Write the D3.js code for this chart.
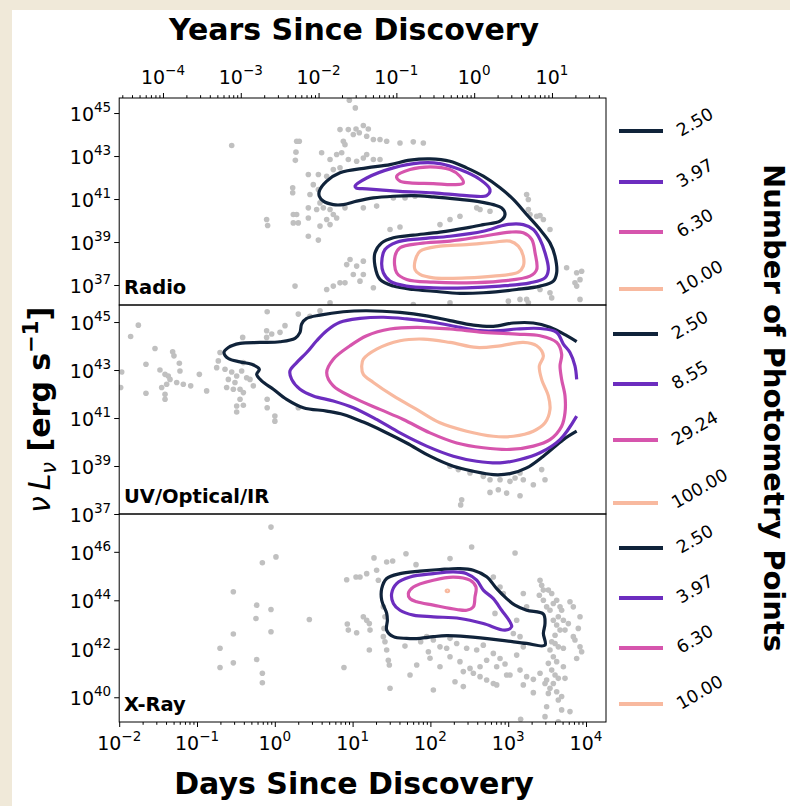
<!DOCTYPE html>
<html><head><meta charset="utf-8">
<script src="https://cdn.jsdelivr.net/npm/d3@7"></script>
<style>html,body{margin:0;padding:0;background:#f0e9d9;} svg{display:block;font-family:"DejaVu Sans",sans-serif;}</style>
</head><body><svg id="c" width="790" height="806"></svg>
<script>
// ---------- DATA (log10 values) ----------
const dayTickExps = [-2,-1,0,1,2,3,4];
const yearTickExps = [-4,-3,-2,-1,0,1];
const xDomainExp = [-2, 4.257];
const daysPerYear = 365.25;
const panelNames = ["Radio","UV/Optical/IR","X-Ray"];
const panelYTickExps = [[45,43,41,39,37],[45,43,41,39,37],[46,44,42,40]];
const panelYDomainExp = [[36.07,45.7],[37.0,45.71],[38.98,47.56]];
const radioLevels = [2.50,3.97,6.30,10.00];
const uvLevels = [2.50,8.55,29.24,100.00];
const xrayLevels = [2.50,3.97,6.30,10.00];
const levelColors = ["#10233a","#6c2dbf","#d655ad","#f8b99f"];

// scatter points: [log10 days, log10 nuLnu]
const radioPts = [[0.958,45.60],[1.035,45.24],[-0.554,43.49],[0.281,43.69],[0.315,43.69],[0.272,43.18],[0.264,42.80],[0.838,44.23],[0.945,44.23],[1.044,44.26],[1.138,44.42],[1.202,44.26],[1.086,44.08],[1.009,44.00],[1.181,43.92],[1.267,43.77],[1.352,43.77],[1.438,43.69],[1.609,43.61],[1.780,43.66],[1.909,43.61],[0.881,43.69],[0.902,43.53],[0.602,43.15],[0.710,42.84],[0.795,43.07],[0.860,43.15],[0.945,42.84],[1.052,42.76],[1.138,42.91],[1.181,43.07],[1.267,42.84],[1.352,42.84],[0.752,42.37],[0.838,42.45],[0.667,42.06],[0.431,42.14],[0.560,42.14],[0.495,41.67],[0.560,41.44],[0.230,41.52],[0.230,41.29],[0.452,41.21],[0.581,40.82],[0.624,40.59],[0.538,40.51],[0.710,40.51],[0.752,40.28],[0.667,40.05],[0.710,39.81],[0.795,40.12],[0.431,40.59],[0.238,40.28],[0.281,40.28],[0.431,40.12],[-0.105,40.05],[-0.092,39.77],[0.238,39.89],[0.302,39.89],[0.581,39.74],[0.431,39.27],[0.560,39.09],[1.524,41.05],[1.674,41.05],[1.802,41.13],[1.309,40.67],[1.138,40.59],[0.902,40.59],[2.595,40.59],[2.638,40.51],[2.766,40.43],[2.252,40.05],[2.380,40.20],[2.123,39.81],[1.481,39.58],[1.609,39.70],[3.237,41.21],[3.259,40.98],[3.259,40.51],[3.280,40.28],[3.366,40.20],[3.409,40.23],[3.452,40.05],[3.537,39.58],[3.751,37.80],[3.880,37.57],[3.944,37.64],[3.923,37.25],[3.858,37.10],[3.880,36.95],[0.924,37.95],[1.052,37.88],[0.967,38.19],[1.138,38.11],[1.009,37.49],[1.138,37.49],[1.095,37.18],[0.902,37.10],[0.838,37.10],[0.752,36.95],[0.667,36.79],[0.260,36.95],[1.267,36.87],[3.409,36.79],[3.537,36.64],[3.559,36.40],[3.152,36.33],[3.002,36.25],[3.237,36.33],[3.259,36.17],[3.923,36.33],[2.252,36.17],[1.780,36.09],[0.710,36.17]];

const uvPts = [[-0.098,45.43],[0.302,45.33],[0.452,45.24],[0.581,45.47],[-1.754,44.87],[-1.853,44.40],[-1.540,43.90],[-1.313,43.76],[-1.296,43.59],[-1.656,43.24],[-1.227,43.28],[-1.219,42.96],[-1.968,42.92],[-1.981,42.27],[-1.476,43.00],[-1.411,42.82],[-1.369,42.75],[-1.347,42.61],[-1.454,42.27],[-1.390,42.41],[-1.411,41.99],[-1.411,41.78],[-1.656,42.03],[-1.261,42.48],[-1.176,42.41],[-1.081,42.34],[-0.970,42.82],[-0.876,42.13],[-0.726,43.38],[-0.704,43.73],[-0.747,43.10],[-0.640,43.03],[-0.554,42.92],[-0.512,42.48],[-0.597,42.61],[-0.619,42.27],[-0.533,42.20],[-0.447,42.20],[-0.404,42.06],[-0.362,42.68],[-0.319,42.61],[-0.276,42.34],[-0.426,42.96],[-0.404,43.31],[-0.490,42.75],[-0.447,41.78],[-0.490,41.50],[-0.404,41.53],[-0.490,41.25],[-0.098,41.78],[-0.098,41.43],[0.001,41.08],[0.001,40.87],[0.302,41.43],[-0.413,44.36],[-0.105,44.64],[-0.040,44.50],[0.067,44.57],[0.131,44.85],[-0.105,44.36],[2.252,38.99],[2.359,38.85],[2.509,38.71],[2.680,38.57],[2.766,38.43],[2.895,38.43],[3.023,38.36],[3.194,38.43],[3.323,38.22],[3.430,38.85],[3.473,38.43],[2.766,37.90],[2.873,38.01],[2.980,37.87],[3.152,37.76],[2.402,37.59],[2.389,37.38],[3.088,38.50],[3.152,38.71]];

const xrayPts = [[-0.049,47.02],[0.015,45.79],[-0.160,45.55],[-0.533,44.35],[-0.233,43.80],[-0.242,43.25],[-0.049,43.62],[-0.049,42.70],[0.444,43.21],[-0.704,42.02],[-0.704,41.23],[-0.533,42.61],[-0.533,41.42],[-0.233,41.56],[-0.160,40.99],[-0.160,40.60],[0.889,41.23],[0.924,44.85],[0.932,43.02],[0.945,42.77],[1.044,44.96],[1.095,44.96],[1.181,45.10],[1.052,42.66],[1.138,43.32],[1.181,43.18],[1.215,43.04],[1.224,42.77],[1.275,45.75],[1.309,45.24],[1.331,44.83],[1.395,43.73],[1.416,43.32],[1.404,42.84],[1.395,42.50],[1.416,42.29],[1.438,41.95],[1.459,41.53],[1.472,41.33],[1.481,40.37],[1.215,41.95],[1.438,45.58],[1.515,45.62],[1.686,45.92],[1.815,45.47],[2.252,45.72],[2.530,46.20],[3.088,45.95],[2.809,44.96],[2.895,44.55],[2.937,44.28],[3.194,44.28],[3.237,43.73],[3.109,43.18],[2.830,43.46],[3.194,42.08],[3.109,41.74],[3.152,41.12],[3.237,40.85],[3.323,40.74],[3.323,40.19],[3.194,40.51],[2.980,40.92],[2.852,41.26],[2.723,41.53],[2.638,41.26],[2.552,40.99],[2.509,41.19],[2.380,41.47],[2.252,41.67],[2.123,41.26],[1.974,41.88],[1.995,41.61],[2.038,42.36],[2.252,42.43],[2.338,42.22],[2.466,42.02],[2.595,41.95],[2.680,42.15],[2.809,41.81],[2.895,41.60],[2.959,41.37],[3.023,40.92],[2.809,40.57],[2.723,40.71],[2.638,40.85],[2.423,41.06],[2.316,40.64],[2.423,40.44],[2.852,40.51],[2.038,40.30],[1.738,40.92],[1.673,42.11],[1.875,42.29],[1.824,41.33],[2.123,42.08],[2.209,42.02],[1.952,42.50],[3.066,42.63],[3.152,42.50],[3.409,44.83],[3.430,44.62],[3.452,44.42],[3.400,44.21],[3.452,44.00],[3.516,44.42],[3.559,44.28],[3.494,43.73],[3.537,43.59],[3.580,43.87],[3.623,44.00],[3.666,43.73],[3.687,43.59],[3.644,43.32],[3.580,43.18],[3.623,42.98],[3.666,42.77],[3.602,42.56],[3.559,42.29],[3.602,42.22],[3.644,42.08],[3.537,41.95],[3.580,41.67],[3.623,41.47],[3.516,41.40],[3.559,41.12],[3.602,40.92],[3.644,40.78],[3.580,40.57],[3.537,40.37],[3.623,40.23],[3.687,40.03],[3.644,39.89],[3.516,40.16],[3.473,40.57],[3.409,40.99],[3.494,40.71],[3.709,41.26],[3.730,40.78],[3.794,43.94],[3.837,43.73],[3.773,43.04],[3.923,43.32],[3.901,42.84],[3.858,42.36],[3.923,42.08],[3.944,41.88],[3.880,41.60],[3.837,42.50],[3.494,39.61],[3.473,39.20],[3.687,39.48],[3.794,39.41],[3.644,38.99],[3.160,39.09],[3.709,42.02],[3.730,42.77],[3.709,43.18]];

// contour outlines: level index, closed?, [log10 days, log10 nuLnu]
const radioContours = [
 {lvl:0, closed:true, pts:[[0.572,41.36],[0.667,41.83],[0.838,42.22],[1.181,42.45],[1.481,42.60],[1.738,42.81],[1.995,42.87],[2.252,42.76],[2.466,42.45],[2.680,42.06],[2.895,41.52],[3.066,40.98],[3.237,40.28],[3.409,39.58],[3.537,38.96],[3.601,38.34],[3.623,37.57],[3.580,37.18],[3.409,36.95],[3.109,36.79],[2.680,36.64],[2.380,36.61],[2.038,36.71],[1.780,36.79],[1.524,36.95],[1.352,37.26],[1.288,37.88],[1.288,38.50],[1.374,38.96],[1.524,39.20],[1.780,39.32],[2.123,39.46],[2.466,39.66],[2.680,39.81],[2.895,39.97],[2.959,40.28],[2.916,40.59],[2.809,40.74],[2.638,40.87],[2.380,40.98],[2.038,41.10],[1.780,41.16],[1.524,41.13],[1.267,41.05],[1.052,40.90],[0.881,40.74],[0.752,40.74],[0.624,40.90],[0.572,41.13]]},
 {lvl:1, closed:true, pts:[[1.031,41.60],[1.181,41.98],[1.524,42.45],[1.866,42.68],[2.123,42.65],[2.380,42.37],[2.638,41.91],[2.766,41.44],[2.723,41.16],[2.466,41.16],[2.038,41.29],[1.609,41.36],[1.181,41.47],[1.044,41.52]]},
 {lvl:1, closed:true, pts:[[1.374,38.03],[1.416,38.65],[1.566,38.99],[1.866,39.15],[2.252,39.27],[2.680,39.50],[2.980,39.81],[3.194,39.81],[3.323,39.58],[3.409,39.12],[3.473,38.50],[3.516,37.72],[3.473,37.33],[3.280,37.10],[2.895,36.95],[2.466,36.87],[2.038,36.87],[1.695,36.95],[1.481,37.18],[1.395,37.57]]},
 {lvl:2, closed:true, pts:[[1.566,42.06],[1.738,42.37],[1.995,42.50],[2.252,42.37],[2.380,42.06],[2.423,41.75],[2.295,41.67],[2.038,41.72],[1.738,41.75],[1.609,41.83]]},
 {lvl:2, closed:true, pts:[[1.545,38.34],[1.609,38.73],[1.866,38.93],[2.252,39.04],[2.680,39.27],[3.023,39.46],[3.194,39.43],[3.302,39.12],[3.345,38.50],[3.366,37.72],[3.280,37.41],[2.895,37.18],[2.466,37.10],[2.038,37.13],[1.695,37.26],[1.566,37.57]]},
 {lvl:3, closed:true, pts:[[1.802,38.11],[1.866,38.57],[2.123,38.81],[2.466,38.88],[2.809,38.99],[3.023,39.04],[3.130,38.81],[3.194,38.34],[3.194,37.88],[3.130,37.60],[2.809,37.41],[2.466,37.33],[2.038,37.33],[1.866,37.49],[1.802,37.72]]}
];
const uvContours = [
 {lvl:0, closed:false, pts:[[3.880,44.18],[3.752,44.43],[3.537,44.78],[3.323,44.96],[3.066,44.96],[2.809,44.82],[2.552,44.87],[2.252,45.06],[1.952,45.26],[1.609,45.40],[1.181,45.47],[0.881,45.43],[0.581,45.29],[0.410,45.15],[0.345,44.92],[0.324,44.57],[0.260,44.32],[0.067,44.18],[-0.190,44.15],[-0.447,44.11],[-0.597,43.94],[-0.653,43.73],[-0.597,43.48],[-0.447,43.34],[-0.297,43.24],[-0.199,43.03],[-0.233,42.82],[-0.169,42.55],[-0.019,42.20],[0.152,41.78],[0.367,41.43],[0.667,41.29],[0.881,41.15],[1.138,40.83],[1.395,40.45],[1.695,39.96],[1.995,39.41],[2.295,38.99],[2.552,38.78],[2.809,38.64],[3.023,38.68],[3.237,38.92],[3.452,39.41],[3.709,40.10],[3.880,40.45]]},
 {lvl:1, closed:false, pts:[[3.880,42.61],[3.858,43.17],[3.794,43.73],[3.709,44.08],[3.623,44.57],[3.409,44.73],[3.109,44.71],[2.895,44.64],[2.638,44.64],[2.380,44.78],[2.038,44.99],[1.695,45.13],[1.395,45.20],[1.095,45.15],[0.838,44.99],[0.667,44.64],[0.538,44.22],[0.410,43.73],[0.281,43.31],[0.195,42.96],[0.217,42.61],[0.324,42.20],[0.495,41.92],[0.752,41.71],[1.009,41.43],[1.309,40.94],[1.609,40.38],[1.952,39.83],[2.295,39.41],[2.595,39.20],[2.895,39.13],[3.152,39.27],[3.409,39.55],[3.666,40.10],[3.880,41.08]]},
 {lvl:2, closed:true, pts:[[0.667,42.89],[0.752,43.45],[0.967,44.01],[1.181,44.43],[1.481,44.71],[1.824,44.78],[2.252,44.71],[2.680,44.57],[3.109,44.50],[3.409,44.43],[3.623,44.15],[3.687,43.66],[3.666,43.17],[3.687,42.61],[3.730,41.92],[3.730,41.22],[3.687,40.66],[3.537,40.10],[3.323,39.83],[3.023,39.69],[2.680,39.76],[2.338,39.96],[1.995,40.38],[1.652,40.94],[1.352,41.36],[1.009,41.85],[0.752,42.34]]},
 {lvl:3, closed:true, pts:[[1.117,43.17],[1.138,43.45],[1.309,43.87],[1.609,44.22],[1.909,44.29],[2.252,44.15],[2.595,43.94],[2.895,44.01],[3.194,44.15],[3.366,44.01],[3.452,43.59],[3.400,43.17],[3.430,42.61],[3.516,41.92],[3.537,41.36],[3.473,40.80],[3.323,40.45],[3.066,40.24],[2.809,40.24],[2.466,40.45],[2.123,40.80],[1.824,41.36],[1.524,41.92],[1.267,42.48],[1.138,42.82]]}
];
const xrayContours = [
 {lvl:0, closed:true, pts:[[1.374,44.48],[1.438,44.90],[1.609,45.10],[1.866,45.20],[2.123,45.27],[2.380,45.31],[2.552,45.24],[2.723,44.97],[2.852,44.48],[2.980,44.07],[3.087,43.80],[3.237,43.59],[3.452,43.43],[3.473,43.04],[3.452,42.63],[3.473,42.15],[3.237,42.22],[2.895,42.36],[2.466,42.50],[2.209,42.54],[2.038,42.50],[1.866,42.43],[1.695,42.43],[1.524,42.50],[1.438,42.77],[1.447,43.18],[1.438,43.46],[1.374,44.00]]},
 {lvl:1, closed:true, pts:[[1.502,44.28],[1.566,44.69],[1.738,44.96],[2.038,45.10],[2.295,45.17],[2.466,45.10],[2.595,44.83],[2.680,44.42],[2.809,44.07],[2.916,43.59],[3.023,43.11],[3.044,42.91],[2.959,42.77],[2.680,43.04],[2.380,43.25],[2.038,43.32],[1.781,43.39],[1.609,43.59],[1.524,43.87]]},
 {lvl:2, closed:true, pts:[[1.716,44.28],[1.781,44.55],[2.038,44.83],[2.295,44.96],[2.509,44.83],[2.586,44.55],[2.573,44.14],[2.552,43.73],[2.466,43.59],[2.338,43.62],[2.038,43.80],[1.824,43.94],[1.738,44.07]]},
 {lvl:3, closed:true, pts:[[2.205,44.41],[2.232,44.41],[2.232,44.37],[2.205,44.37]]}
];

// ---------- LAYOUT ----------
const W = 790, H = 806;
const plotX = [119.2, 606];
const panelY = [[98,305],[305,514],[514,722]];
const legendLayout = [
 {x1:619, x2:663, ys:[131,182,232,289]},
 {x1:613, x2:658, ys:[334,384,440,503]},
 {x1:619, x2:663, ys:[548,598,648,704]}
];
const panelsData = [
 {pts:radioPts, contours:radioContours, levels:radioLevels},
 {pts:uvPts, contours:uvContours, levels:uvLevels},
 {pts:xrayPts, contours:xrayContours, levels:xrayLevels}
];
const TICK_FS = 19, SUP_FS = 13.5, SUP_DY = -9;

const svg = d3.select("#c");
svg.append("rect").attr("width",W).attr("height",H).attr("fill","#f0e9d9");
svg.append("rect").attr("x",12).attr("y",10).attr("width",W-12).attr("height",H-10).attr("fill","#fff");

const x = d3.scaleLog().domain(xDomainExp.map(e=>10**e)).range(plotX);
const xYears = d3.scaleLog().domain(xDomainExp.map(e=>10**e/daysPerYear)).range(plotX);

function minorVals(lo, hi){
  const out=[];
  for(let e=Math.floor(Math.log10(lo)); e<=Math.ceil(Math.log10(hi)); e++){
    for(let m=2;m<=9;m++){const v=m*10**e; if(v>=lo && v<=hi) out.push(v);}
  }
  return out;
}
function supLabel(sel, base, exp){
  sel.append("tspan").text(base);
  sel.append("tspan").attr("font-size",SUP_FS).attr("dy",SUP_DY).text(String(exp).replace("-","\u2212"));
}

panelsData.forEach((pd, i) => {
  const [y0, y1] = panelY[i];
  const dom = panelYDomainExp[i];
  const y = d3.scaleLog().domain(dom.map(e=>10**e)).range([y1, y0]);
  const g = svg.append("g");
  const clipId = "clip"+i;
  svg.append("clipPath").attr("id",clipId).append("rect")
    .attr("x",plotX[0]).attr("y",y0).attr("width",plotX[1]-plotX[0]).attr("height",y1-y0);
  const inner = g.append("g").attr("clip-path",`url(#${clipId})`);
  inner.selectAll("circle").data(pd.pts).join("circle")
    .attr("cx",d=>x(10**d[0])).attr("cy",d=>y(10**d[1])).attr("r",2.8).attr("fill","#c0c0c0");
  pd.contours.forEach(c => {
    const line = d3.line().x(d=>x(10**d[0])).y(d=>y(10**d[1]))
      .curve(c.closed ? d3.curveCatmullRomClosed.alpha(0.5) : d3.curveCatmullRom.alpha(0.5));
    inner.append("path").attr("d",line(c.pts)).attr("fill","none")
      .attr("stroke",levelColors[c.lvl]).attr("stroke-width",3.2).attr("stroke-linejoin","round");
  });
  g.append("rect").attr("x",plotX[0]).attr("y",y0).attr("width",plotX[1]-plotX[0]).attr("height",y1-y0)
    .attr("fill","none").attr("stroke","#000").attr("stroke-width",1);
  const ticks = panelYTickExps[i];
  const ya = g.append("g").attr("transform",`translate(${plotX[0]},0)`)
    .call(d3.axisLeft(y).tickValues(ticks.map(e=>10**e)).tickSize(5).tickFormat(""));
  ya.select(".domain").remove();
  ya.selectAll("line").attr("stroke","#000");
  ticks.forEach(e => {
    const t = g.append("text").attr("x",plotX[0]-8).attr("y",y(10**e)+8)
      .attr("text-anchor","end").attr("font-size",TICK_FS).attr("fill","#000");
    supLabel(t, "10", e);
  });
  g.append("text").attr("x",124).attr("y",y1-11.5).attr("font-size",19.5).attr("font-weight","bold")
    .text(panelNames[i]);
  const lg = legendLayout[i];
  pd.levels.forEach((lv, k) => {
    svg.append("line").attr("x1",lg.x1).attr("x2",lg.x2).attr("y1",lg.ys[k]).attr("y2",lg.ys[k])
      .attr("stroke",levelColors[k]).attr("stroke-width",4.2);
    svg.append("text").attr("transform",`translate(${lg.x2+18},${lg.ys[k]+6}) rotate(-30)`)
      .attr("font-size",17.5).text(lv.toFixed(2));
  });
});

// bottom axis
const bottomY = panelY[2][1];
const bAx = svg.append("g").attr("transform",`translate(0,${bottomY})`);
bAx.call(d3.axisBottom(x).tickValues(dayTickExps.map(e=>10**e)).tickSize(5).tickFormat(""));
bAx.select(".domain").remove();
const bMin = svg.append("g").attr("transform",`translate(0,${bottomY})`);
bMin.call(d3.axisBottom(x).tickValues(minorVals(x.domain()[0], x.domain()[1])).tickSize(2.8).tickFormat(""));
bMin.select(".domain").remove();
dayTickExps.forEach(e => {
  const t = svg.append("text").attr("x",x(10**e)).attr("y",bottomY+28).attr("text-anchor","middle").attr("font-size",TICK_FS);
  supLabel(t,"10",e);
});
// top axis (years)
const topY = panelY[0][0];
const tAx = svg.append("g").attr("transform",`translate(0,${topY})`);
tAx.call(d3.axisTop(xYears).tickValues(yearTickExps.map(e=>10**e)).tickSize(5).tickFormat(""));
tAx.select(".domain").remove();
const tMin = svg.append("g").attr("transform",`translate(0,${topY})`);
tMin.call(d3.axisTop(xYears).tickValues(minorVals(xYears.domain()[0], xYears.domain()[1])).tickSize(2.8).tickFormat(""));
tMin.select(".domain").remove();
yearTickExps.forEach(e => {
  const t = svg.append("text").attr("x",xYears(10**e)).attr("y",topY-14).attr("text-anchor","middle").attr("font-size",TICK_FS);
  supLabel(t,"10",e);
});
svg.selectAll(".tick line").attr("stroke","#000");

// titles
svg.append("text").attr("x",354).attr("y",40).attr("text-anchor","middle").attr("font-size",30).attr("font-weight","bold").text("Years Since Discovery");
svg.append("text").attr("x",354).attr("y",794).attr("text-anchor","middle").attr("font-size",30).attr("font-weight","bold").text("Days Since Discovery");
svg.append("text").attr("transform","translate(764,408) rotate(90)").attr("text-anchor","middle").attr("font-size",29).attr("font-weight","bold").text("Number of Photometry Points");
const yl = svg.append("text").attr("transform","translate(50,410) rotate(-90)").attr("text-anchor","middle").attr("font-size",30).attr("font-weight","bold");
yl.append("tspan").attr("font-style","italic").attr("font-weight","normal").text("\u03bd");
yl.append("tspan").text("\u2009");
yl.append("tspan").attr("font-style","italic").attr("font-weight","normal").text("L");
yl.append("tspan").attr("font-style","italic").attr("font-weight","normal").attr("font-size",21).attr("dy",6).text("\u03bd");
yl.append("tspan").attr("dy",-6).text(" [erg s");
yl.append("tspan").attr("font-size",21).attr("dy",-12).text("\u22121");
yl.append("tspan").attr("dy",12).text("]");
</script>
</body></html>
